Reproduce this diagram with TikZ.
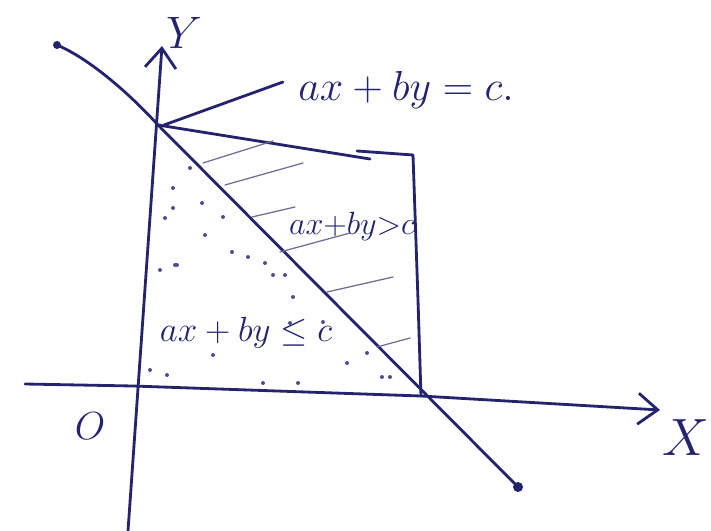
\documentclass[tikz,border=0pt]{standalone}
\usepackage{tikz}
\usetikzlibrary{arrows.meta}

\definecolor{ink}{RGB}{35,35,110}
\definecolor{hatchink}{RGB}{110,110,150}

\tikzset{
  pen/.style={draw=ink, line width=2pt, line cap=round, line join=round},
  hatchline/.style={draw=hatchink, line width=0.9pt, line cap=round},
  handtext/.style={text=ink, inner sep=0pt, font=\fontsize{24.88}{28}\selectfont},
  speck/.style={fill=ink!80},
}

\begin{document}
\begin{tikzpicture}[x=0.025cm, y=-0.025cm, >={Straight Barb[length=14pt,width=22pt]}]
  \useasboundingbox (0,0) rectangle (711,531);
  % Key points
  \coordinate (Ytop) at (162,46);
  \coordinate (Ybot) at (128,531);
  \coordinate (Xleft) at (25,384);
  \coordinate (Xright) at (660,410);
  \coordinate (P) at (158,125);
  \coordinate (Q) at (421,396);
  \coordinate (R) at (413,155);
  \coordinate (Lstart) at (57,45);
  \coordinate (Lend) at (518,487);
  % Axes
  \draw[pen, ->] (Ybot) -- (Ytop);
  \draw[pen, ->] (Xleft) -- (133,386) -- (Q) -- (Xright);
  \node[handtext] (ylab) at (184,33) {\scalebox{1.3}{$Y$}};
  \node[handtext] (xlab) at (686,438) {\scalebox{1.5}{$X$}};
  \node[handtext] (origin) at (90,426) {\scalebox{1.12}{$O$}};
  % Line ax+by=c
  \draw[pen] (Lstart) .. controls (88,58) and (128,92) .. (P) -- (Lend);
  \fill[ink] (Lstart) circle (4);
  \fill[ink] (Lend) circle (5);
  % Box around the upper region
  \draw[pen] (P) -- (370,159);
  \draw[pen] (357,151) -- (R) -- (418,300) -- (Q);
  % Hatching of the upper region
  \draw[hatchline] (203,163) -- (273,141);
  \draw[hatchline] (225,185) -- (303,163);
  \draw[hatchline] (252,217) -- (295,207);
  \draw[hatchline] (280,252) -- (350,233);
  \draw[hatchline] (327,292) -- (393,277);
  \draw[hatchline] (377,347) -- (410,338);
  % Specks in the lower region
  \foreach \px/\py in {190/168, 173/188, 173/208, 165/218, 205/235, 223/217,
      202/203, 232/252, 248/257, 265/263, 175/265, 273/275, 285/275,
      293/297, 323/322, 367/353, 382/377, 390/377, 347/363, 160/270,
      177/265, 150/370, 167/375, 263/383, 298/383, 290/323, 213/355}
    \fill[speck] (\px,\py) circle (2);
  % Labels
  \node[handtext] (eqlab) at (406,90) {\scalebox{1.2}{$ax+by=c.$}};
  \draw[pen] (P) ++(6,0) -- (283,82);
  \node[handtext] (gtlab) at (352,226) {\scalebox{0.92}{${ax}{+}{by}{>}{c}$}};
  \node[handtext] (lelab) at (246,333) {$ax+by\leq c$};
\end{tikzpicture}
\end{document}
